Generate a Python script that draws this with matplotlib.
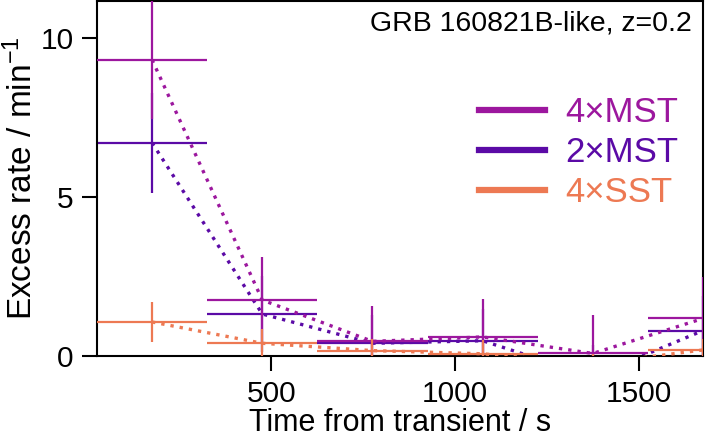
import matplotlib
matplotlib.use("Agg")
import matplotlib.pyplot as plt
import numpy as np

plt.rcParams['font.family'] = ['Liberation Sans', 'DejaVu Sans']
plt.rcParams['mathtext.fontset'] = 'custom'
plt.rcParams['mathtext.rm'] = 'Liberation Sans'
plt.rcParams['mathtext.it'] = 'Liberation Sans'

# data
time_centers = [175, 475, 775, 1075, 1375, 1675]
half_width = [150, 150, 150, 150, 150, 150]

mst4_rate = [9.31, 1.76, 0.46, 0.60, 0.08, 1.18]
mst4_err = [1.85, 1.35, 1.10, 1.19, 1.21, 1.30]

mst2_rate = [6.70, 1.32, 0.40, 0.48, -0.65, 0.80]
mst2_err = [1.57, 1.20, 0.90, 1.00, 1.00, 1.10]

sst4_rate = [1.07, 0.40, 0.17, 0.07, -0.25, 0.19]
sst4_err = [0.63, 0.45, 0.35, 0.43, 0.30, 0.35]

labels = ['4×MST', '2×MST', '4×SST']
colors = ['#9c179e', '#5b0aa6', '#ed7953']

series = [
    (mst4_rate, mst4_err, colors[0], labels[0], 3),
    (mst2_rate, mst2_err, colors[1], labels[1], 2),
    (sst4_rate, sst4_err, colors[2], labels[2], 4),
]

fig = plt.figure(figsize=(7.06, 4.38), dpi=100)
ax = fig.add_axes([0.1374, 0.1872, 0.8584, 0.8105])

handles = []
for rate, err, c, lab, z in series:
    ax.errorbar(time_centers, rate, xerr=half_width, yerr=err, fmt='none',
                ecolor=c, elinewidth=1.6, capsize=0, zorder=z)
    ax.plot(time_centers, rate, linestyle=(0, (1, 1.8)), color=c, lw=2.4,
            zorder=z)
    h, = ax.plot([], [], color=c, lw=4.5, label=lab)
    handles.append(h)

ax.set_xlim(25, 1675)
ax.set_ylim(0, 11.16)
ax.set_xticks([500, 1000, 1500])
ax.set_yticks([0, 5, 10])

for s in ax.spines.values():
    s.set_linewidth(1.5)
ax.tick_params(axis='both', direction='out', length=11, width=1.5,
               labelsize=21.5, pad=6)

ax.set_xlabel('Time from transient / s', fontsize=22, labelpad=0)
ax.set_ylabel('Excess rate / min$^{-1}$', fontsize=24, labelpad=1)

ax.text(0.982, 0.972, 'GRB 160821B-like, z=0.2', transform=ax.transAxes,
        ha='right', va='top', fontsize=20.5)

leg = ax.legend(handles=handles, loc='upper right', bbox_to_anchor=(1.0, 0.80),
                frameon=False, fontsize=25, handlelength=1.9,
                handletextpad=0.6, labelspacing=0.2, borderaxespad=0.3)
for t, c in zip(leg.get_texts(), colors):
    t.set_color(c)

fig.savefig('out.png', dpi=100)
